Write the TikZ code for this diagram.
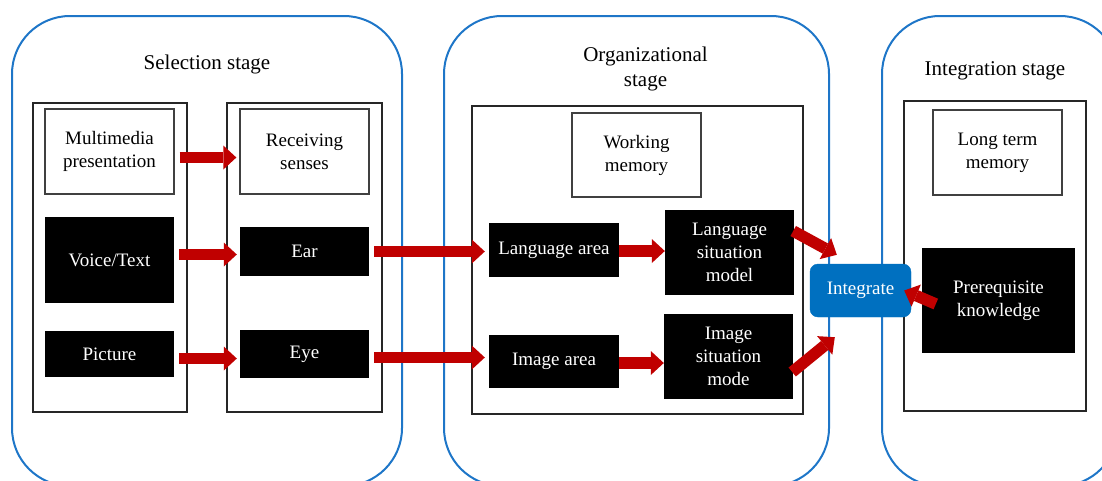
\documentclass[tikz,border=0pt]{standalone}
\usepackage{fontspec}
\setmainfont{Liberation Serif}
\usetikzlibrary{arrows.meta}
\definecolor{stageblue}{RGB}{30,118,200}
\definecolor{intblue}{RGB}{0,112,192}
\definecolor{arrowred}{RGB}{192,0,0}
\definecolor{boxgray}{RGB}{64,64,64}
\begin{document}
\begin{tikzpicture}[x=1pt,y=-1pt,
  wh/.style 2 args={minimum width=#1pt,minimum height=#2pt},
  stage/.style={draw=stageblue,line width=2pt,rounded corners=58pt,inner sep=0pt},
  title/.style={font=\fontsize{21}{25}\selectfont,align=center,inner sep=0pt},
  panel/.style={draw=black!85,line width=1.1pt,inner sep=0pt},
  wbox/.style={draw=boxgray,line width=1.3pt,fill=white,align=center,inner sep=0pt,font=\fontsize{19}{23}\selectfont},
  bbox/.style={fill=black,text=white,align=center,inner sep=0pt,font=\fontsize{19}{23}\selectfont},
  ibox/.style={fill=intblue,draw=intblue,rounded corners=8pt,text=white,inner sep=0pt,font=\fontsize{19}{23}\selectfont},
  bigarrow/.style={color=arrowred,line width=11.5pt,-{Triangle[length=13pt 0 0,width=24pt 0 0,line width=0pt 0 0]}}
]
\clip (0,0) rectangle (1102,480);
% stages
\node[stage,wh={390}{470}] (st1) at (207,251) {};
\node[stage,wh={385}{470}] (st2) at (636.5,251) {};
\node[stage,wh={236}{470}] (st3) at (1000,251) {};
\node[title,anchor=base] (t1) at (207,69) {Selection stage};
\node[title] (t2) at (645.5,68.7) {Organizational\\stage};
\node[title,anchor=base] (t3) at (995,75) {Integration stage};
% panels
\node[panel,wh={154}{309}] (p1) at (110,257.5) {};
\node[panel,wh={155}{309}] (p2) at (304.5,257.5) {};
\node[panel,wh={331}{308}] (p3) at (637.5,260) {};
\node[panel,wh={182}{310}] (p4) at (995,256) {};
% boxes
\node[wbox,wh={129}{85}] (mm) at (109.5,151.5) {Multimedia\\presentation};
\node[wbox,wh={129}{85}] (rs) at (304.5,151.5) {Receiving\\senses};
\node[bbox,wh={129}{86}] (vt) at (109.5,260) {Voice/Text};
\node[bbox,wh={129}{49}] (ear) at (304.5,251.5) {Ear};
\node[bbox,wh={129}{46}] (pic) at (109.5,354) {Picture};
\node[bbox,wh={129}{48}] (eye) at (304.5,354) {Eye};
\node[wbox,wh={129}{84}] (wm) at (636.5,155) {Working\\memory};
\node[bbox,wh={130}{54}] (la) at (554,250) {Language area};
\node[bbox,wh={129}{85}] (lsm) at (729.5,252.5) {Language\\situation\\model};
\node[bbox,wh={130}{53}] (ia) at (554,361.5) {Image area};
\node[bbox,wh={129}{85}] (ism) at (728.5,356.5) {Image\\situation\\mode};
\node[ibox,wh={101}{53}] (int) at (860.5,290.5) {Integrate};
\node[wbox,wh={129}{85}] (ltm) at (997.5,152.5) {Long term\\memory};
\node[bbox,wh={153}{105}] (pk) at (998.5,300.5) {Prerequisite\\knowledge};
% arrows
\draw[bigarrow,shorten <=5pt,shorten >=3pt] ([yshift=-6pt]mm.east) -- ([yshift=-6pt]rs.west);
\draw[bigarrow,shorten <=5pt,shorten >=3pt] ([yshift=-3pt]ear.west -| vt.east) -- ([yshift=-3pt]ear.west);
\draw[bigarrow,shorten <=5pt,shorten >=3pt] ([yshift=-4.5pt]pic.east) -- ([yshift=-4.5pt]eye.west);
\draw[bigarrow,shorten <=5pt,shorten >=4pt] (ear.east) -- (ear.east -| la.west);
\draw[bigarrow,shorten <=5pt,shorten >=4pt] ([yshift=-3.5pt]eye.east) -- ([yshift=-3.5pt]eye.east -| ia.west);
\draw[bigarrow] ([yshift=-1pt]la.east) -- ([yshift=-1pt]la.east -| lsm.west);
\draw[bigarrow] ([yshift=-1.5pt]ia.east) -- ([yshift=-1.5pt]ia.east -| ism.west);
\draw[bigarrow] ([xshift=-1pt,yshift=21.5pt]lsm.east) -- ([xshift=27pt,yshift=9pt]int.north west);
\draw[bigarrow] ([xshift=-1pt,yshift=-15.5pt]ism.east) -- ([xshift=25pt,yshift=-20pt]int.south west);
\draw[bigarrow] ([xshift=14pt,yshift=-3.5pt]pk.west) -- ([xshift=-7pt]int.east);
\end{tikzpicture}
\end{document}
